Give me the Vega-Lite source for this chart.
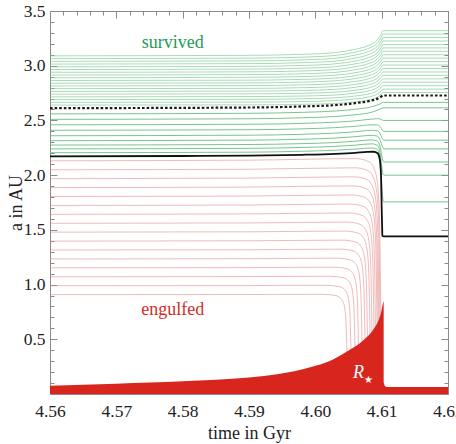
{
  "$schema": "https://vega.github.io/schema/vega-lite/v6.json",
  "width": 398,
  "height": 383,
  "autosize": {"type": "none"},
  "padding": {"left": 50, "top": 11, "right": 8, "bottom": 50},
  "background": "white",
  "config": {
    "view": {"stroke": "#8a8a8a", "strokeWidth": 1},
    "font": "Liberation Serif, Times New Roman, serif",
    "axis": {
      "domain": false,
      "grid": false,
      "labelFont": "Liberation Serif, Times New Roman, serif",
      "labelFontSize": 17.5,
      "labelColor": "#222",
      "titleFont": "Liberation Serif, Times New Roman, serif",
      "titleFontSize": 18,
      "titleFontWeight": "normal",
      "titleColor": "#222",
      "tickColor": "#8a8a8a",
      "tickWidth": 1,
      "labelFlush": false,
      "labelOverlap": false,
      "labelBound": false
    }
  },
  "datasets": {
    "upper": [
      {"t": 4.56, "g01": 3.090, "g02": 3.065, "g03": 3.040, "g04": 3.015, "g05": 2.990, "g06": 2.965, "g07": 2.940, "g08": 2.915, "g09": 2.890, "g10": 2.865, "g11": 2.840, "g12": 2.815, "g13": 2.790, "g14": 2.765, "g15": 2.740, "g16": 2.715, "g17": 2.690, "g18": 2.665, "g19": 2.640},
      {"t": 4.59, "g01": 3.095, "g02": 3.069, "g03": 3.044, "g04": 3.019, "g05": 2.994, "g06": 2.969, "g07": 2.944, "g08": 2.919, "g09": 2.894, "g10": 2.868, "g11": 2.843, "g12": 2.818, "g13": 2.793, "g14": 2.768, "g15": 2.743, "g16": 2.718, "g17": 2.693, "g18": 2.667, "g19": 2.642},
      {"t": 4.598, "g01": 3.104, "g02": 3.078, "g03": 3.053, "g04": 3.028, "g05": 3.002, "g06": 2.977, "g07": 2.952, "g08": 2.926, "g09": 2.901, "g10": 2.875, "g11": 2.850, "g12": 2.825, "g13": 2.799, "g14": 2.774, "g15": 2.748, "g16": 2.723, "g17": 2.698, "g18": 2.672, "g19": 2.647},
      {"t": 4.603, "g01": 3.120, "g02": 3.094, "g03": 3.068, "g04": 3.042, "g05": 3.017, "g06": 2.991, "g07": 2.965, "g08": 2.939, "g09": 2.913, "g10": 2.887, "g11": 2.862, "g12": 2.836, "g13": 2.810, "g14": 2.784, "g15": 2.758, "g16": 2.732, "g17": 2.707, "g18": 2.681, "g19": 2.655},
      {"t": 4.606, "g01": 3.150, "g02": 3.124, "g03": 3.097, "g04": 3.070, "g05": 3.043, "g06": 3.017, "g07": 2.990, "g08": 2.963, "g09": 2.936, "g10": 2.909, "g11": 2.883, "g12": 2.856, "g13": 2.830, "g14": 2.803, "g15": 2.776, "g16": 2.750, "g17": 2.723, "g18": 2.696, "g19": 2.670},
      {"t": 4.608, "g01": 3.185, "g02": 3.158, "g03": 3.130, "g04": 3.102, "g05": 3.074, "g06": 3.046, "g07": 3.019, "g08": 2.991, "g09": 2.963, "g10": 2.935, "g11": 2.908, "g12": 2.880, "g13": 2.852, "g14": 2.825, "g15": 2.797, "g16": 2.769, "g17": 2.742, "g18": 2.714, "g19": 2.686},
      {"t": 4.6093, "g01": 3.233, "g02": 3.204, "g03": 3.175, "g04": 3.146, "g05": 3.116, "g06": 3.088, "g07": 3.059, "g08": 3.030, "g09": 3.001, "g10": 2.972, "g11": 2.943, "g12": 2.914, "g13": 2.885, "g14": 2.856, "g15": 2.827, "g16": 2.798, "g17": 2.769, "g18": 2.740, "g19": 2.711},
      {"t": 4.6099, "g01": 3.286, "g02": 3.255, "g03": 3.224, "g04": 3.194, "g05": 3.163, "g06": 3.133, "g07": 3.103, "g08": 3.072, "g09": 3.042, "g10": 3.011, "g11": 2.981, "g12": 2.951, "g13": 2.920, "g14": 2.890, "g15": 2.859, "g16": 2.829, "g17": 2.799, "g18": 2.768, "g19": 2.738},
      {"t": 4.6102, "g01": 3.320, "g02": 3.289, "g03": 3.257, "g04": 3.226, "g05": 3.194, "g06": 3.163, "g07": 3.132, "g08": 3.100, "g09": 3.069, "g10": 3.037, "g11": 3.006, "g12": 2.975, "g13": 2.943, "g14": 2.912, "g15": 2.880, "g16": 2.849, "g17": 2.818, "g18": 2.786, "g19": 2.755},
      {"t": 4.62, "g01": 3.320, "g02": 3.289, "g03": 3.257, "g04": 3.226, "g05": 3.194, "g06": 3.163, "g07": 3.132, "g08": 3.100, "g09": 3.069, "g10": 3.037, "g11": 3.006, "g12": 2.975, "g13": 2.943, "g14": 2.912, "g15": 2.880, "g16": 2.849, "g17": 2.818, "g18": 2.786, "g19": 2.755}
    ],
    "lower": [
      {"t": 4.56, "L1": 2.560, "L2": 2.510, "L3": 2.460, "L4": 2.410, "L5": 2.360, "L6": 2.315, "L7": 2.275, "L8": 2.240, "L9": 2.205},
      {"t": 4.59, "L1": 2.565, "L2": 2.515, "L3": 2.465, "L4": 2.415, "L5": 2.365, "L6": 2.320, "L7": 2.280, "L8": 2.245, "L9": 2.210},
      {"t": 4.598, "L1": 2.574, "L2": 2.524, "L3": 2.473, "L4": 2.423, "L5": 2.373, "L6": 2.328, "L7": 2.288, "L8": 2.253, "L9": 2.218},
      {"t": 4.603, "L1": 2.586, "L2": 2.536, "L3": 2.484, "L4": 2.434, "L5": 2.384, "L6": 2.339, "L7": 2.298, "L8": 2.263, "L9": 2.228},
      {"t": 4.606, "L1": 2.602, "L2": 2.552, "L3": 2.496, "L4": 2.446, "L5": 2.396, "L6": 2.351, "L7": 2.310, "L8": 2.274, "L9": 2.238},
      {"t": 4.6085, "L1": 2.625, "L2": 2.575, "L3": 2.512, "L4": 2.460, "L5": 2.410, "L6": 2.364, "L7": 2.322, "L8": 2.286, "L9": 2.248},
      {"t": 4.6094, "L1": 2.642, "L2": 2.594, "L3": 2.516, "L4": 2.458, "L5": 2.404, "L6": 2.355, "L7": 2.310, "L8": 2.272, "L9": 2.232},
      {"t": 4.6098, "L1": 2.652, "L2": 2.605, "L3": 2.512, "L4": 2.440, "L5": 2.375, "L6": 2.315, "L7": 2.250, "L8": 2.190, "L9": 2.120},
      {"t": 4.6101, "L1": 2.662, "L2": 2.612, "L3": 2.503, "L4": 2.410, "L5": 2.335, "L6": 2.260, "L7": 2.150, "L8": 2.040, "L9": 1.830},
      {"t": 4.6103, "L1": 2.665, "L2": 2.615, "L3": 2.500, "L4": 2.400, "L5": 2.320, "L6": 2.240, "L7": 2.120, "L8": 2.000, "L9": 1.755},
      {"t": 4.62, "L1": 2.665, "L2": 2.615, "L3": 2.500, "L4": 2.400, "L5": 2.320, "L6": 2.240, "L7": 2.120, "L8": 2.000, "L9": 1.755}
    ],
    "engulfed": [
      {"k": "r01", "t": 4.56, "a": 0.908}, {"k": "r01", "t": 4.59, "a": 0.909}, {"k": "r01", "t": 4.601, "a": 0.911}, {"k": "r01", "t": 4.60296, "a": 0.901}, {"k": "r01", "t": 4.60371, "a": 0.880}, {"k": "r01", "t": 4.60417, "a": 0.843}, {"k": "r01", "t": 4.60447, "a": 0.770}, {"k": "r01", "t": 4.60462, "a": 0.661}, {"k": "r01", "t": 4.60477, "a": 0.360},
      {"k": "r02", "t": 4.56, "a": 0.990}, {"k": "r02", "t": 4.59, "a": 0.991}, {"k": "r02", "t": 4.60161, "a": 0.994}, {"k": "r02", "t": 4.60357, "a": 0.982}, {"k": "r02", "t": 4.60432, "a": 0.959}, {"k": "r02", "t": 4.60478, "a": 0.919}, {"k": "r02", "t": 4.60508, "a": 0.838}, {"k": "r02", "t": 4.60523, "a": 0.716}, {"k": "r02", "t": 4.60538, "a": 0.385},
      {"k": "r03", "t": 4.56, "a": 1.071}, {"k": "r03", "t": 4.59, "a": 1.073}, {"k": "r03", "t": 4.60221, "a": 1.076}, {"k": "r03", "t": 4.60417, "a": 1.063}, {"k": "r03", "t": 4.60492, "a": 1.038}, {"k": "r03", "t": 4.60538, "a": 0.993}, {"k": "r03", "t": 4.60568, "a": 0.904}, {"k": "r03", "t": 4.60583, "a": 0.771}, {"k": "r03", "t": 4.60598, "a": 0.410},
      {"k": "r04", "t": 4.56, "a": 1.153}, {"k": "r04", "t": 4.59, "a": 1.155}, {"k": "r04", "t": 4.60274, "a": 1.159}, {"k": "r04", "t": 4.6047, "a": 1.145}, {"k": "r04", "t": 4.60545, "a": 1.117}, {"k": "r04", "t": 4.60591, "a": 1.068}, {"k": "r04", "t": 4.60621, "a": 0.970}, {"k": "r04", "t": 4.60636, "a": 0.823}, {"k": "r04", "t": 4.60651, "a": 0.430},
      {"k": "r05", "t": 4.56, "a": 1.234}, {"k": "r05", "t": 4.59, "a": 1.236}, {"k": "r05", "t": 4.60327, "a": 1.241}, {"k": "r05", "t": 4.60523, "a": 1.226}, {"k": "r05", "t": 4.60598, "a": 1.196}, {"k": "r05", "t": 4.60644, "a": 1.142}, {"k": "r05", "t": 4.60674, "a": 1.036}, {"k": "r05", "t": 4.60689, "a": 0.877}, {"k": "r05", "t": 4.60704, "a": 0.453},
      {"k": "r06", "t": 4.56, "a": 1.316}, {"k": "r06", "t": 4.59, "a": 1.318}, {"k": "r06", "t": 4.60372, "a": 1.324}, {"k": "r06", "t": 4.60568, "a": 1.308}, {"k": "r06", "t": 4.60643, "a": 1.275}, {"k": "r06", "t": 4.60689, "a": 1.218}, {"k": "r06", "t": 4.60719, "a": 1.104}, {"k": "r06", "t": 4.60734, "a": 0.932}, {"k": "r06", "t": 4.60749, "a": 0.478},
      {"k": "r07", "t": 4.56, "a": 1.397}, {"k": "r07", "t": 4.59, "a": 1.400}, {"k": "r07", "t": 4.60409, "a": 1.406}, {"k": "r07", "t": 4.60605, "a": 1.389}, {"k": "r07", "t": 4.6068, "a": 1.354}, {"k": "r07", "t": 4.60726, "a": 1.292}, {"k": "r07", "t": 4.60756, "a": 1.170}, {"k": "r07", "t": 4.60771, "a": 0.986}, {"k": "r07", "t": 4.60786, "a": 0.502},
      {"k": "r08", "t": 4.56, "a": 1.479}, {"k": "r08", "t": 4.59, "a": 1.482}, {"k": "r08", "t": 4.60447, "a": 1.489}, {"k": "r08", "t": 4.60643, "a": 1.470}, {"k": "r08", "t": 4.60718, "a": 1.433}, {"k": "r08", "t": 4.60764, "a": 1.368}, {"k": "r08", "t": 4.60794, "a": 1.237}, {"k": "r08", "t": 4.60809, "a": 1.041}, {"k": "r08", "t": 4.60824, "a": 0.526},
      {"k": "r09", "t": 4.56, "a": 1.560}, {"k": "r09", "t": 4.59, "a": 1.563}, {"k": "r09", "t": 4.60477, "a": 1.571}, {"k": "r09", "t": 4.60673, "a": 1.551}, {"k": "r09", "t": 4.60748, "a": 1.511}, {"k": "r09", "t": 4.60794, "a": 1.442}, {"k": "r09", "t": 4.60824, "a": 1.302}, {"k": "r09", "t": 4.60839, "a": 1.093}, {"k": "r09", "t": 4.60854, "a": 0.545},
      {"k": "r10", "t": 4.56, "a": 1.642}, {"k": "r10", "t": 4.59, "a": 1.646}, {"k": "r10", "t": 4.60507, "a": 1.654}, {"k": "r10", "t": 4.60703, "a": 1.633}, {"k": "r10", "t": 4.60778, "a": 1.591}, {"k": "r10", "t": 4.60824, "a": 1.517}, {"k": "r10", "t": 4.60854, "a": 1.369}, {"k": "r10", "t": 4.60869, "a": 1.148}, {"k": "r10", "t": 4.60884, "a": 0.570},
      {"k": "r11", "t": 4.56, "a": 1.723}, {"k": "r11", "t": 4.59, "a": 1.727}, {"k": "r11", "t": 4.6053, "a": 1.736}, {"k": "r11", "t": 4.60726, "a": 1.714}, {"k": "r11", "t": 4.60801, "a": 1.669}, {"k": "r11", "t": 4.60847, "a": 1.591}, {"k": "r11", "t": 4.60877, "a": 1.436}, {"k": "r11", "t": 4.60892, "a": 1.202}, {"k": "r11", "t": 4.60907, "a": 0.594},
      {"k": "r12", "t": 4.56, "a": 1.805}, {"k": "r12", "t": 4.59, "a": 1.809}, {"k": "r12", "t": 4.60553, "a": 1.819}, {"k": "r12", "t": 4.60749, "a": 1.796}, {"k": "r12", "t": 4.60824, "a": 1.749}, {"k": "r12", "t": 4.6087, "a": 1.667}, {"k": "r12", "t": 4.609, "a": 1.503}, {"k": "r12", "t": 4.60915, "a": 1.257}, {"k": "r12", "t": 4.6093, "a": 0.619},
      {"k": "r13", "t": 4.56, "a": 1.886}, {"k": "r13", "t": 4.59, "a": 1.891}, {"k": "r13", "t": 4.60568, "a": 1.902}, {"k": "r13", "t": 4.60764, "a": 1.877}, {"k": "r13", "t": 4.60839, "a": 1.828}, {"k": "r13", "t": 4.60885, "a": 1.741}, {"k": "r13", "t": 4.60915, "a": 1.568}, {"k": "r13", "t": 4.6093, "a": 1.308}, {"k": "r13", "t": 4.60945, "a": 0.635},
      {"k": "r14", "t": 4.56, "a": 1.968}, {"k": "r14", "t": 4.59, "a": 1.973}, {"k": "r14", "t": 4.60583, "a": 1.985}, {"k": "r14", "t": 4.60779, "a": 1.959}, {"k": "r14", "t": 4.60854, "a": 1.907}, {"k": "r14", "t": 4.609, "a": 1.816}, {"k": "r14", "t": 4.6093, "a": 1.635}, {"k": "r14", "t": 4.60945, "a": 1.362}, {"k": "r14", "t": 4.6096, "a": 0.658},
      {"k": "r15", "t": 4.56, "a": 2.049}, {"k": "r15", "t": 4.59, "a": 2.054}, {"k": "r15", "t": 4.60598, "a": 2.067}, {"k": "r15", "t": 4.60794, "a": 2.040}, {"k": "r15", "t": 4.60869, "a": 1.986}, {"k": "r15", "t": 4.60915, "a": 1.891}, {"k": "r15", "t": 4.60945, "a": 1.702}, {"k": "r15", "t": 4.6096, "a": 1.418}, {"k": "r15", "t": 4.60975, "a": 0.684},
      {"k": "r16", "t": 4.56, "a": 2.131}, {"k": "r16", "t": 4.59, "a": 2.137}, {"k": "r16", "t": 4.6061, "a": 2.151}, {"k": "r16", "t": 4.60806, "a": 2.123}, {"k": "r16", "t": 4.60881, "a": 2.066}, {"k": "r16", "t": 4.60927, "a": 1.967}, {"k": "r16", "t": 4.60957, "a": 1.769}, {"k": "r16", "t": 4.60972, "a": 1.471}, {"k": "r16", "t": 4.60987, "a": 0.705}
    ],
    "radius": [
      {"t": 4.56, "r": 0.076}, {"t": 4.565, "r": 0.084}, {"t": 4.57, "r": 0.094}, {"t": 4.575, "r": 0.104},
      {"t": 4.58, "r": 0.116}, {"t": 4.585, "r": 0.13}, {"t": 4.59, "r": 0.15}, {"t": 4.5945, "r": 0.183},
      {"t": 4.597, "r": 0.21}, {"t": 4.5995, "r": 0.25}, {"t": 4.602, "r": 0.298}, {"t": 4.6047, "r": 0.387},
      {"t": 4.6072, "r": 0.49}, {"t": 4.6087, "r": 0.585}, {"t": 4.6095, "r": 0.67}, {"t": 4.6099, "r": 0.74},
      {"t": 4.6102, "r": 0.83}, {"t": 4.6103, "r": 0.845}, {"t": 4.61035, "r": 0.1}, {"t": 4.6105, "r": 0.072},
      {"t": 4.6108, "r": 0.064}, {"t": 4.62, "r": 0.064}
    ],
    "boundary": [
      {"t": 4.56, "a": 2.612}, {"t": 4.59, "a": 2.618}, {"t": 4.598, "a": 2.628}, {"t": 4.603, "a": 2.64},
      {"t": 4.606, "a": 2.658}, {"t": 4.608, "a": 2.676}, {"t": 4.6093, "a": 2.697}, {"t": 4.6099, "a": 2.716},
      {"t": 4.6102, "a": 2.728}, {"t": 4.62, "a": 2.728}
    ],
    "critical": [
      {"t": 4.56, "a": 2.172}, {"t": 4.58, "a": 2.175}, {"t": 4.59, "a": 2.178}, {"t": 4.598, "a": 2.186},
      {"t": 4.603, "a": 2.195}, {"t": 4.606, "a": 2.204}, {"t": 4.6078, "a": 2.212}, {"t": 4.6088, "a": 2.214},
      {"t": 4.6094, "a": 2.2}, {"t": 4.6097, "a": 2.15}, {"t": 4.6099, "a": 2.0}, {"t": 4.61, "a": 1.7},
      {"t": 4.61008, "a": 1.5}, {"t": 4.6101, "a": 1.445}, {"t": 4.6103, "a": 1.44}, {"t": 4.62, "a": 1.44}
    ]
  },
  "layer": [
    {
      "data": {"name": "upper"},
      "transform": [{"fold": ["g01", "g02", "g03", "g04", "g05", "g06", "g07", "g08", "g09", "g10", "g11", "g12", "g13", "g14", "g15", "g16", "g17", "g18", "g19"], "as": ["k", "a"]}],
      "mark": {"type": "line", "interpolate": "monotone", "stroke": "#79c88c", "strokeWidth": 1, "opacity": 0.65},
      "encoding": {
        "x": {"field": "t", "type": "quantitative", "scale": {"domain": [4.56, 4.62], "nice": false, "zero": false},
              "axis": {"orient": "bottom", "values": [4.56, 4.57, 4.58, 4.59, 4.6, 4.61, 4.62], "format": ".2f", "tickSize": -7, "labelPadding": 15, "title": "time in Gyr", "titlePadding": 5}},
        "y": {"field": "a", "type": "quantitative", "scale": {"domain": [0, 3.5], "nice": false, "zero": false},
              "axis": {"orient": "left", "values": [0.5, 1, 1.5, 2, 2.5, 3, 3.5], "format": ".1f", "tickSize": -7, "labelPadding": 12, "title": "a in AU", "titlePadding": -2}},
        "detail": {"field": "k"}
      }
    },
    {
      "data": {"name": "lower"},
      "transform": [{"fold": ["L1", "L2", "L3", "L4", "L5", "L6", "L7", "L8", "L9"], "as": ["k", "a"]}],
      "mark": {"type": "line", "interpolate": "monotone", "stroke": "#62bb79", "strokeWidth": 1, "opacity": 0.85},
      "encoding": {
        "x": {"field": "t", "type": "quantitative", "scale": {"domain": [4.56, 4.62], "nice": false, "zero": false},
              "axis": {"orient": "top", "values": [4.56, 4.57, 4.58, 4.59, 4.6, 4.61, 4.62], "tickSize": -7, "labels": false, "title": null}},
        "y": {"field": "a", "type": "quantitative", "scale": {"domain": [0, 3.5], "nice": false, "zero": false},
              "axis": {"orient": "right", "values": [0.5, 1, 1.5, 2, 2.5, 3, 3.5], "tickSize": -7, "labels": false, "title": null}},
        "detail": {"field": "k"}
      }
    },
    {
      "data": {"name": "engulfed"},
      "mark": {"type": "line", "interpolate": "monotone", "stroke": "#e38282", "strokeWidth": 1, "opacity": 0.55},
      "encoding": {
        "x": {"field": "t", "type": "quantitative", "scale": {"domain": [4.56, 4.62], "nice": false, "zero": false},
              "axis": {"orient": "bottom", "values": [4.562, 4.564, 4.566, 4.568, 4.572, 4.574, 4.576, 4.578, 4.582, 4.584, 4.586, 4.588, 4.592, 4.594, 4.596, 4.598, 4.602, 4.604, 4.606, 4.608, 4.612, 4.614, 4.616, 4.618], "tickSize": -4, "labels": false, "title": null}},
        "y": {"field": "a", "type": "quantitative", "scale": {"domain": [0, 3.5], "nice": false, "zero": false},
              "axis": {"orient": "left", "values": [0.1, 0.2, 0.3, 0.4, 0.6, 0.7, 0.8, 0.9, 1.1, 1.2, 1.3, 1.4, 1.6, 1.7, 1.8, 1.9, 2.1, 2.2, 2.3, 2.4, 2.6, 2.7, 2.8, 2.9, 3.1, 3.2, 3.3, 3.4], "tickSize": -4, "labels": false, "title": null}},
        "detail": {"field": "k"}
      }
    },
    {
      "data": {"name": "radius"},
      "mark": {"type": "area", "color": "#d8261f", "interpolate": "monotone"},
      "encoding": {
        "x": {"field": "t", "type": "quantitative", "scale": {"domain": [4.56, 4.62], "nice": false, "zero": false},
              "axis": {"orient": "top", "values": [4.562, 4.564, 4.566, 4.568, 4.572, 4.574, 4.576, 4.578, 4.582, 4.584, 4.586, 4.588, 4.592, 4.594, 4.596, 4.598, 4.602, 4.604, 4.606, 4.608, 4.612, 4.614, 4.616, 4.618], "tickSize": -4, "labels": false, "title": null}},
        "y": {"field": "r", "type": "quantitative", "scale": {"domain": [0, 3.5], "nice": false, "zero": false},
              "axis": {"orient": "right", "values": [0.1, 0.2, 0.3, 0.4, 0.6, 0.7, 0.8, 0.9, 1.1, 1.2, 1.3, 1.4, 1.6, 1.7, 1.8, 1.9, 2.1, 2.2, 2.3, 2.4, 2.6, 2.7, 2.8, 2.9, 3.1, 3.2, 3.3, 3.4], "tickSize": -4, "labels": false, "title": null}},
        "y2": {"datum": 0}
      }
    },
    {
      "data": {"name": "boundary"},
      "mark": {"type": "line", "interpolate": "monotone", "stroke": "#1a1a1a", "strokeWidth": 2.2, "strokeDash": [2.6, 2]},
      "encoding": {
        "x": {"field": "t", "type": "quantitative", "scale": {"domain": [4.56, 4.62], "nice": false, "zero": false}, "axis": null},
        "y": {"field": "a", "type": "quantitative", "scale": {"domain": [0, 3.5], "nice": false, "zero": false}, "axis": null}
      }
    },
    {
      "data": {"name": "critical"},
      "mark": {"type": "line", "interpolate": "monotone", "stroke": "#111", "strokeWidth": 1.8},
      "encoding": {
        "x": {"field": "t", "type": "quantitative", "scale": {"domain": [4.56, 4.62], "nice": false, "zero": false}, "axis": null},
        "y": {"field": "a", "type": "quantitative", "scale": {"domain": [0, 3.5], "nice": false, "zero": false}, "axis": null}
      }
    },
    {
      "data": {"values": [{"t": 4.5785, "a": 3.21, "s": "survived"}]},
      "mark": {"type": "text", "font": "Liberation Serif, Times New Roman, serif", "fontSize": 18, "color": "#239a58", "align": "center", "baseline": "middle"},
      "encoding": {
        "x": {"field": "t", "type": "quantitative", "scale": {"domain": [4.56, 4.62], "nice": false, "zero": false}, "axis": null},
        "y": {"field": "a", "type": "quantitative", "scale": {"domain": [0, 3.5], "nice": false, "zero": false}, "axis": null},
        "text": {"field": "s"}
      }
    },
    {
      "data": {"values": [{"t": 4.5785, "a": 0.77, "s": "engulfed"}]},
      "mark": {"type": "text", "font": "Liberation Serif, Times New Roman, serif", "fontSize": 18, "color": "#d42b26", "align": "center", "baseline": "middle"},
      "encoding": {
        "x": {"field": "t", "type": "quantitative", "scale": {"domain": [4.56, 4.62], "nice": false, "zero": false}, "axis": null},
        "y": {"field": "a", "type": "quantitative", "scale": {"domain": [0, 3.5], "nice": false, "zero": false}, "axis": null},
        "text": {"field": "s"}
      }
    },
    {
      "data": {"values": [{"t": 4.6065, "a": 0.192, "s": "R"}]},
      "mark": {"type": "text", "font": "Liberation Serif, Times New Roman, serif", "fontSize": 18, "fontStyle": "italic", "color": "white", "align": "center", "baseline": "middle"},
      "encoding": {
        "x": {"field": "t", "type": "quantitative", "scale": {"domain": [4.56, 4.62], "nice": false, "zero": false}, "axis": null},
        "y": {"field": "a", "type": "quantitative", "scale": {"domain": [0, 3.5], "nice": false, "zero": false}, "axis": null},
        "text": {"field": "s"}
      }
    },
    {
      "data": {"values": [{"t": 4.608, "a": 0.128, "s": "★"}]},
      "mark": {"type": "text", "font": "DejaVu Sans", "fontSize": 10, "color": "white", "align": "center", "baseline": "middle"},
      "encoding": {
        "x": {"field": "t", "type": "quantitative", "scale": {"domain": [4.56, 4.62], "nice": false, "zero": false}, "axis": null},
        "y": {"field": "a", "type": "quantitative", "scale": {"domain": [0, 3.5], "nice": false, "zero": false}, "axis": null},
        "text": {"field": "s"}
      }
    }
  ],
  "resolve": {"axis": {"x": "independent", "y": "independent"}}
}
